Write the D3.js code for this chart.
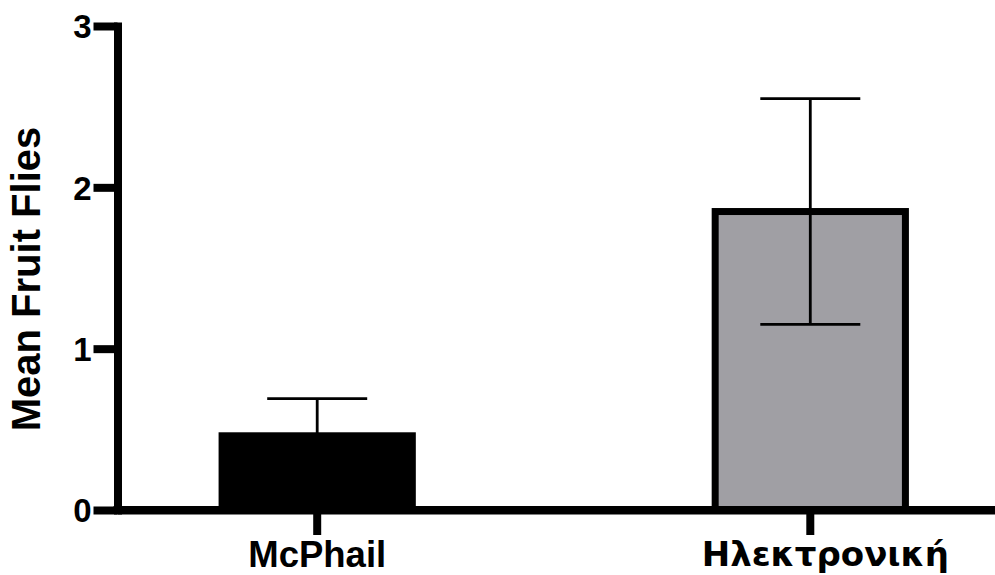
<!DOCTYPE html>
<html>
<head>
<meta charset="utf-8">
<script src="https://cdn.jsdelivr.net/npm/d3@7"></script>
<style>
  html, body { margin: 0; padding: 0; background: #fff; }
  svg { display: block; }
  text { font-family: "Liberation Sans", Arial, Helvetica, sans-serif; font-weight: bold; fill: #000; }
</style>
</head>
<body>
<svg id="chart" width="995" height="575"></svg>
<script>
// Trap types and their mean catch with standard error
const categories = ["McPhail", "Ηλεκτρονική"];
const means = [0.46, 1.85];
const errors = [0.23, 0.70];
const fills = ["#000000", "#a09fa4"];
const yTicks = [0, 1, 2, 3];
const yTitle = "Mean Fruit Flies";

const svg = d3.select("#chart");
const W = 995, H = 575;
const axisX = 117.5, axisY = 510, topY = 26;

const y = d3.scaleLinear().domain([0, 3]).range([axisY, topY]);
const x = d3.scaleBand()
  .domain(categories)
  .range([axisX, 1010])
  .paddingInner(0.6)
  .paddingOuter(0.205);

const barStroke = 7;
const bw = x.bandwidth() - barStroke;

// Bars
svg.append("g").selectAll("rect")
  .data(categories)
  .join("rect")
  .attr("x", d => x(d) + (x.bandwidth() - bw) / 2)
  .attr("width", bw)
  .attr("y", (d, i) => y(means[i]))
  .attr("height", (d, i) => y(0) - y(means[i]))
  .attr("fill", (d, i) => fills[i])
  .attr("stroke", "#000")
  .attr("stroke-width", barStroke);

// Error bars
const capHalf = 50;
const eg = svg.append("g").attr("stroke", "#000").attr("stroke-width", 2.8).attr("fill", "none");
categories.forEach((c, i) => {
  const cx = x(c) + x.bandwidth() / 2;
  const hi = y(means[i] + errors[i]);
  const lo = y(means[i] - errors[i]);
  eg.append("line").attr("x1", cx).attr("x2", cx).attr("y1", hi).attr("y2", lo);
  eg.append("line").attr("x1", cx - capHalf).attr("x2", cx + capHalf).attr("y1", hi).attr("y2", hi);
  eg.append("line").attr("x1", cx - capHalf).attr("x2", cx + capHalf).attr("y1", lo).attr("y2", lo);
});

// Y axis
const yAxis = svg.append("g")
  .attr("transform", `translate(${axisX},0)`)
  .call(d3.axisLeft(y).tickValues(yTicks).tickFormat(d3.format("d")).tickSize(24).tickSizeOuter(0).tickPadding(2));
yAxis.select(".domain").attr("stroke-width", 8).attr("stroke-linecap", "square");
yAxis.selectAll(".tick line").attr("stroke-width", 8);
yAxis.selectAll(".tick text").style("font-size", "33px").attr("dy", "0.36em");

// X axis
const xAxis = svg.append("g")
  .attr("transform", `translate(0,${axisY})`)
  .call(d3.axisBottom(x).tickSize(25).tickSizeOuter(0).tickPadding(6));
xAxis.select(".domain").attr("stroke-width", 8);
xAxis.selectAll(".tick line").attr("stroke-width", 8);
xAxis.selectAll(".tick text").style("font-size", "36.5px").attr("dy", "0.71em");
// Greek label is set in a wider face
xAxis.selectAll(".tick text").filter(d => d === "Ηλεκτρονική")
  .style("font-family", "'DejaVu Sans', sans-serif")
  .style("font-size", "34px")
  .attr("dx", 15)
  .attr("dy", "0.74em");

// Extend the x axis baseline back to the y axis
svg.append("line")
  .attr("x1", axisX - 4).attr("x2", W)
  .attr("y1", axisY).attr("y2", axisY)
  .attr("stroke", "#000").attr("stroke-width", 8);

// Y axis title
svg.append("text")
  .attr("transform", `translate(40,279) rotate(-90)`)
  .attr("text-anchor", "middle")
  .style("font-size", "40px")
  .text(yTitle);
</script>
</body>
</html>
